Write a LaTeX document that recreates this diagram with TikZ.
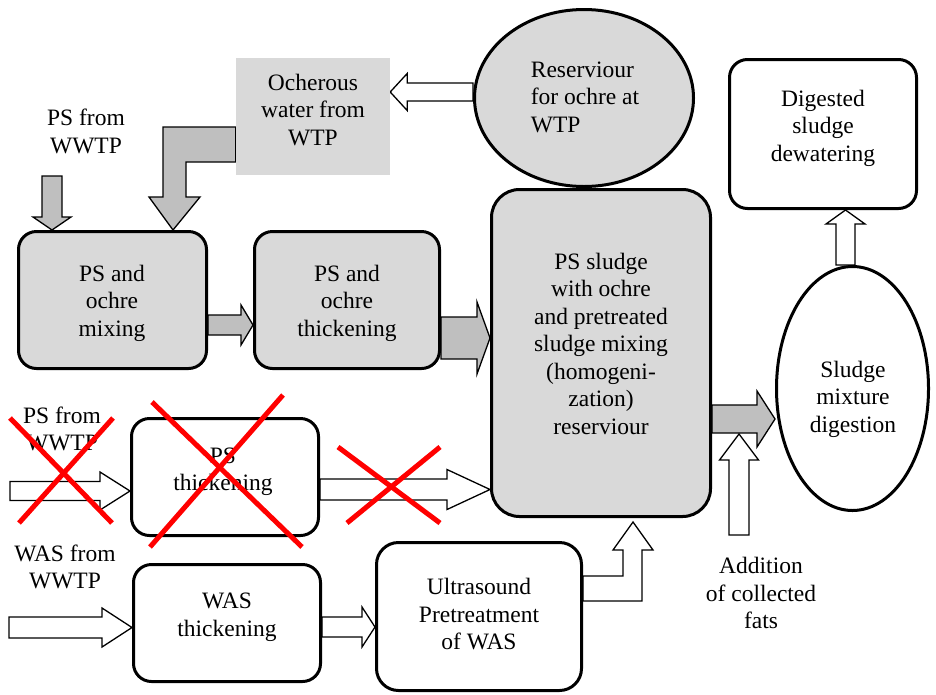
\documentclass[tikz,border=0pt]{standalone}
\usepackage{fontspec}
\setmainfont{Liberation Serif}
\usetikzlibrary{shapes.geometric,calc,backgrounds}
\definecolor{boxgray}{HTML}{D9D9D9}
\definecolor{arrgray}{HTML}{BFBFBF}
\definecolor{xred}{HTML}{FF0000}
% block arrows: #1 style, #2 tail, #3 tip, #4 shaft half width, #5 head half width, #6 head length
\newcommand\blkR[6]{\path[#1] let \p1=#2, \p2=#3 in
  (\x1,\y2+#4) -- (\x2-#6,\y2+#4) -- (\x2-#6,\y2+#5) -- (\x2,\y2) -- (\x2-#6,\y2-#5) -- (\x2-#6,\y2-#4) -- (\x1,\y2-#4) -- cycle;}
\newcommand\blkL[6]{\path[#1] let \p1=#2, \p2=#3 in
  (\x1,\y2+#4) -- (\x2+#6,\y2+#4) -- (\x2+#6,\y2+#5) -- (\x2,\y2) -- (\x2+#6,\y2-#5) -- (\x2+#6,\y2-#4) -- (\x1,\y2-#4) -- cycle;}
\newcommand\blkU[6]{\path[#1] let \p1=#2, \p2=#3 in
  (\x2+#4,\y1) -- (\x2+#4,\y2-#6) -- (\x2+#5,\y2-#6) -- (\x2,\y2) -- (\x2-#5,\y2-#6) -- (\x2-#4,\y2-#6) -- (\x2-#4,\y1) -- cycle;}
\newcommand\blkD[6]{\path[#1] let \p1=#2, \p2=#3 in
  (\x2+#4,\y1) -- (\x2+#4,\y2+#6) -- (\x2+#5,\y2+#6) -- (\x2,\y2) -- (\x2-#5,\y2+#6) -- (\x2-#4,\y2+#6) -- (\x2-#4,\y1) -- cycle;}
\tikzset{
  gbox/.style={draw, line width=3pt, fill=boxgray, rounded corners=18pt, inner sep=0pt},
  wbox/.style={draw, line width=3pt, fill=white, rounded corners=18pt, inner sep=0pt},
  lbl/.style={font=\fontsize{23.5}{27.5}\selectfont, align=center, inner sep=0pt},
  warr/.style={draw=black, fill=white, line width=1.3pt},
  garr/.style={draw=black, fill=arrgray, line width=1.3pt},
  crossline/.style={draw=xred, line width=5pt},
}
\begin{document}
\begin{tikzpicture}[x=1pt,y=-1pt]
\useasboundingbox (0,0) rectangle (936,694);
% nodes
\node[fill=boxgray, inner sep=0pt, minimum width=154pt, minimum height=117pt] (ocher) at (313,116.5) {};
\node[ellipse, draw, line width=3pt, fill=boxgray, inner sep=0pt, minimum width=219pt, minimum height=177pt] (res) at (584,98) {};
\node[wbox, minimum width=187pt, minimum height=149pt] (dw) at (823,134) {};
\node[gbox, minimum width=188pt, minimum height=137pt] (mix) at (112.5,300) {};
\node[gbox, minimum width=185pt, minimum height=137pt] (thick) at (347,300) {};
\node[gbox, rounded corners=28pt, minimum width=219pt, minimum height=327pt] (big) at (601,353) {};
\node[ellipse, draw, line width=3pt, fill=white, inner sep=0pt, minimum width=152pt, minimum height=244pt] (dig) at (852.5,388.5) {};
\node[wbox, minimum width=187pt, minimum height=117pt] (psth) at (225,477) {};
\node[wbox, minimum width=187pt, minimum height=117pt] (wasth) at (227,623) {};
\node[wbox, rounded corners=22pt, minimum width=205pt, minimum height=148pt] (ultra) at (479,616.5) {};
% texts
\node[lbl] (t-ocher) at (313,110) {Ocherous\\water from\\WTP};
\node[lbl, align=left] (t-res) at (585,97) {Reserviour\\for ochre at\\WTP};
\node[lbl] (t-dw) at (823,128) {Digested\\sludge\\dewatering};
\node[lbl] (t-mix) at (112,303) {PS and\\ochre\\mixing};
\node[lbl] (t-thick) at (347,303) {PS and\\ochre\\thickening};
\node[lbl] (t-big) at (601,343.5) {PS sludge\\with ochre\\and pretreated\\sludge mixing\\(homogeni-\\zation)\\reserviour};
\node[lbl] (t-dig) at (853,399) {Sludge\\mixture\\digestion};
\node[lbl] (t-psth) at (223,471.5) {PS\\thickening};
\node[lbl] (t-wasth) at (227,617) {WAS\\thickening};
\node[lbl] (t-ultra) at (479,614.5) {Ultrasound\\Pretreatment\\of WAS};
\node[lbl] (l-ps1) at (86,131.5) {PS from\\WWTP};
\node[lbl] (l-ps2) at (62,429) {PS from\\WWTP};
\node[lbl] (l-was) at (65,567) {WAS from\\WWTP};
\node[lbl] (l-fats) at (761,593) {Addition\\of collected\\fats};
% free ends
\coordinate (psin) at (52,176);
\coordinate (psin2) at (10,491);
\coordinate (wasin) at (9,627.5);
\coordinate (fatsin) at (739,535);
\coordinate (fatsout) at (739,434);
\coordinate (bigin) at (633,522);
% connectors
\begin{pgfonlayer}{background}
\blkL{warr}{(res.west |- 0,92)}{(ocher.east |- 0,92)}{9}{18.5}{17}
\blkD{garr}{(psin)}{(mix.north -| 52,0)}{10}{19}{13}
\path[garr] (ocher.west |- 0,127) -- (163,127) -- (163,197) -- (149,197) -- (mix.north -| 173,0)
  -- (200,197) -- (186,197) -- (186,162) -- (ocher.west |- 0,162) -- cycle;
\blkR{garr}{(mix.east |- 0,325)}{(thick.west |- 0,325)}{10}{20}{12}
\blkR{garr}{(thick.east |- 0,338)}{(big.west |- 0,338)}{21}{36}{13}
\blkR{garr}{(big.east |- 0,419)}{(dig.west |- 0,419)}{14}{28}{18}
\blkU{warr}{(fatsin)}{(fatsout)}{10}{19.5}{26}
\blkU{warr}{(dig.north -| 845.5,0)}{(dw.south -| 845.5,0)}{9.5}{19.5}{14}
\blkR{warr}{(psin2)}{(psth.west |- 0,491)}{9.5}{19}{30}
\blkR{warr}{(psth.east |- 0,489.5)}{(big.west |- 0,489.5)}{10.5}{20}{43}
\blkR{warr}{(wasin)}{(wasth.west |- 0,627.5)}{10.5}{19.5}{30}
\blkR{warr}{(wasth.east |- 0,627)}{(ultra.west |- 0,627)}{10}{20}{13}
\path[warr] (ultra.east |- 0,601) -- (642,601) -- (642,550) -- (653,550) -- (bigin)
  -- (613,550) -- (623,550) -- (623,576) -- (ultra.east |- 0,576) -- cycle;
\end{pgfonlayer}
% red crosses
\draw[crossline] (10,418) -- (112,523);
\draw[crossline] (113,418) -- (19,523);
\draw[crossline] (152,402) -- (302,547);
\draw[crossline] (283,395) -- (150,547);
\draw[crossline] (338,447) -- (440,523);
\draw[crossline] (440,447) -- (347,523);
\end{tikzpicture}
\end{document}
